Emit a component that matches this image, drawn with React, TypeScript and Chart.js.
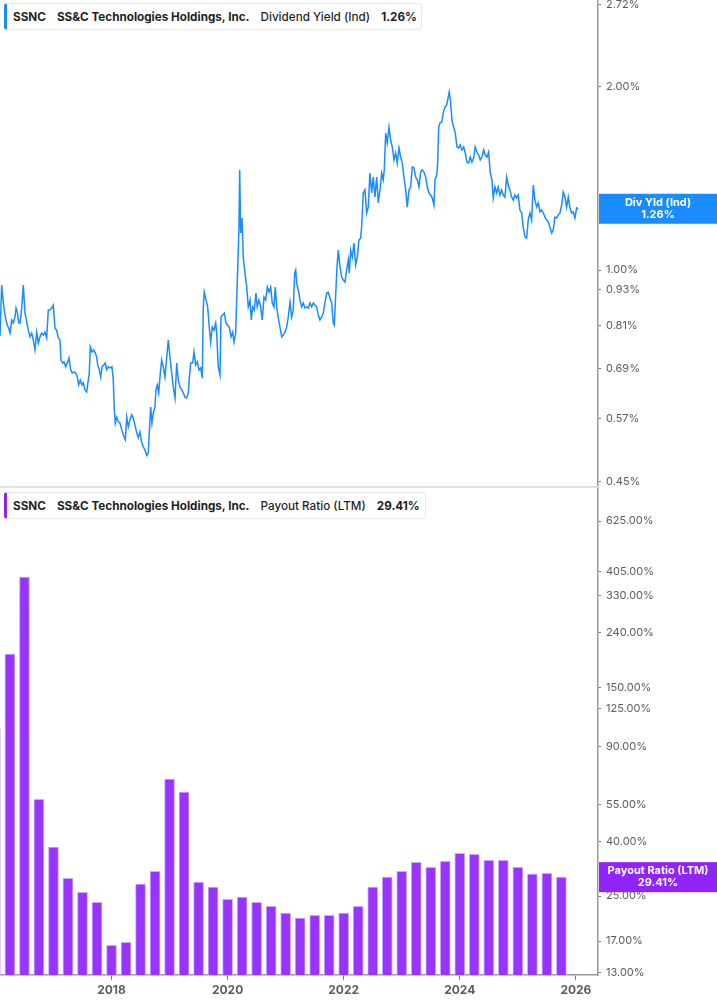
import { useEffect, useRef } from 'react';
import Chart from 'chart.js/auto';

const C = {
  blue: '#1a8cff',
  purple: '#9933ff',
  purpleBox: '#9124fb',
  purpleEdge: 'rgba(205,165,255,0.95)',
  axis: '#9a9a9a',
  tick: '#5c5c5c',
  text: '#1f1f1f'
};
const FONT = 'Inter, "Noto Sans", sans-serif';

// dividend yield (indicated), % — read off the picture
const yieldYears = [
  2016.079, 2016.108, 2016.136, 2016.16, 2016.182, 2016.205, 2016.229, 2016.251, 2016.281, 2016.308,
  2016.337, 2016.355, 2016.377, 2016.401, 2016.424, 2016.453, 2016.48, 2016.51, 2016.539, 2016.566,
  2016.596, 2016.625, 2016.653, 2016.682, 2016.711, 2016.739, 2016.768, 2016.797, 2016.825, 2016.854,
  2016.883, 2016.911, 2016.94, 2016.97, 2016.997, 2017.026, 2017.056, 2017.083, 2017.113, 2017.13,
  2017.159, 2017.181, 2017.211, 2017.245, 2017.268, 2017.297, 2017.324, 2017.354, 2017.383, 2017.411,
  2017.435, 2017.462, 2017.492, 2017.514, 2017.543, 2017.572, 2017.6, 2017.617, 2017.635, 2017.664,
  2017.693, 2017.721, 2017.745, 2017.762, 2017.79, 2017.814, 2017.836, 2017.865, 2017.893, 2017.917,
  2017.945, 2017.974, 2018.008, 2018.031, 2018.048, 2018.065, 2018.089, 2018.117, 2018.146, 2018.169,
  2018.193, 2018.215, 2018.238, 2018.262, 2018.289, 2018.318, 2018.348, 2018.375, 2018.405, 2018.434,
  2018.461, 2018.491, 2018.52, 2018.548, 2018.577, 2018.606, 2018.634, 2018.651, 2018.675, 2018.697,
  2018.72, 2018.749, 2018.766, 2018.789, 2018.813, 2018.835, 2018.864, 2018.892, 2018.921, 2018.951,
  2018.978, 2019.007, 2019.037, 2019.064, 2019.094, 2019.123, 2019.15, 2019.18, 2019.209, 2019.237,
  2019.266, 2019.295, 2019.323, 2019.34, 2019.364, 2019.399, 2019.421, 2019.45, 2019.478, 2019.507,
  2019.536, 2019.564, 2019.581, 2019.598, 2019.628, 2019.657, 2019.684, 2019.708, 2019.736, 2019.765,
  2019.795, 2019.812, 2019.839, 2019.869, 2019.886, 2019.915, 2019.943, 2019.972, 2020.001, 2020.029,
  2020.058, 2020.087, 2020.11, 2020.139, 2020.156, 2020.179, 2020.196, 2020.208, 2020.225, 2020.248,
  2020.27, 2020.299, 2020.329, 2020.356, 2020.386, 2020.408, 2020.432, 2020.46, 2020.489, 2020.511,
  2020.541, 2020.57, 2020.597, 2020.627, 2020.656, 2020.684, 2020.713, 2020.742, 2020.77, 2020.799,
  2020.821, 2020.846, 2020.873, 2020.902, 2020.932, 2020.959, 2020.988, 2021.018, 2021.045, 2021.075,
  2021.104, 2021.131, 2021.155, 2021.173, 2021.19, 2021.218, 2021.247, 2021.276, 2021.304, 2021.333,
  2021.362, 2021.39, 2021.419, 2021.448, 2021.476, 2021.505, 2021.534, 2021.562, 2021.591, 2021.62,
  2021.648, 2021.677, 2021.707, 2021.734, 2021.764, 2021.793, 2021.82, 2021.838, 2021.884, 2021.907,
  2021.936, 2021.965, 2021.993, 2022.022, 2022.051, 2022.079, 2022.096, 2022.12, 2022.148, 2022.177,
  2022.206, 2022.234, 2022.263, 2022.292, 2022.309, 2022.337, 2022.366, 2022.396, 2022.423, 2022.452,
  2022.482, 2022.509, 2022.538, 2022.568, 2022.595, 2022.625, 2022.654, 2022.681, 2022.699, 2022.723,
  2022.75, 2022.78, 2022.809, 2022.837, 2022.866, 2022.895, 2022.923, 2022.952, 2022.981, 2023.009,
  2023.038, 2023.068, 2023.095, 2023.125, 2023.154, 2023.181, 2023.211, 2023.24, 2023.268, 2023.297,
  2023.326, 2023.354, 2023.383, 2023.412, 2023.44, 2023.469, 2023.498, 2023.526, 2023.555, 2023.572,
  2023.602, 2023.619, 2023.636, 2023.658, 2023.688, 2023.715, 2023.745, 2023.774, 2023.801, 2023.819,
  2023.843, 2023.865, 2023.895, 2023.922, 2023.951, 2023.981, 2024.008, 2024.037, 2024.067, 2024.094,
  2024.123, 2024.153, 2024.18, 2024.209, 2024.239, 2024.266, 2024.296, 2024.325, 2024.352, 2024.382,
  2024.411, 2024.438, 2024.468, 2024.497, 2024.525, 2024.554, 2024.576, 2024.606, 2024.635, 2024.662,
  2024.692, 2024.721, 2024.749, 2024.778, 2024.807, 2024.835, 2024.864, 2024.893, 2024.921, 2024.95,
  2024.98, 2025.007, 2025.036, 2025.066, 2025.093, 2025.123, 2025.152, 2025.179, 2025.209, 2025.238,
  2025.266, 2025.295, 2025.324, 2025.352, 2025.381, 2025.41, 2025.438, 2025.467, 2025.496, 2025.524,
  2025.553, 2025.583, 2025.61, 2025.639, 2025.669, 2025.696, 2025.726, 2025.755, 2025.782, 2025.812,
  2025.841, 2025.868, 2025.898, 2025.927, 2025.955, 2025.984, 2026.013, 2026.041
];
const yieldValues = [
  0.78, 0.945, 0.883, 0.85, 0.828, 0.812, 0.803, 0.788, 0.828, 0.819,
  0.837, 0.866, 0.853, 0.819, 0.819, 0.866, 0.945, 0.85, 0.822, 0.797,
  0.777, 0.788, 0.768, 0.74, 0.791, 0.759, 0.777, 0.788, 0.782, 0.791,
  0.774, 0.86, 0.86, 0.866, 0.876, 0.803, 0.797, 0.774, 0.768, 0.712,
  0.704, 0.707, 0.694, 0.707, 0.718, 0.686, 0.678, 0.681, 0.678, 0.668,
  0.648, 0.66, 0.648, 0.653, 0.636, 0.631, 0.66, 0.678, 0.748, 0.734,
  0.74, 0.731, 0.72, 0.699, 0.686, 0.668, 0.694, 0.699, 0.704, 0.686,
  0.694, 0.691, 0.694, 0.66, 0.59, 0.561, 0.574, 0.564, 0.561, 0.551,
  0.541, 0.533, 0.527, 0.574, 0.553, 0.568, 0.579, 0.572, 0.557, 0.541,
  0.531, 0.543, 0.521, 0.513, 0.507, 0.497, 0.501, 0.541, 0.596, 0.561,
  0.583, 0.596, 0.636, 0.648, 0.629, 0.668, 0.712, 0.694, 0.668, 0.72,
  0.768, 0.72, 0.678, 0.643, 0.617, 0.704, 0.66, 0.643, 0.636, 0.629,
  0.619, 0.617, 0.629, 0.665, 0.704, 0.704, 0.734, 0.699, 0.707, 0.686,
  0.691, 0.665, 0.87, 0.92, 0.893, 0.87, 0.806, 0.762, 0.806, 0.797,
  0.819, 0.788, 0.694, 0.673, 0.837, 0.844, 0.85, 0.819, 0.812, 0.806,
  0.777, 0.791, 0.762, 0.788, 0.893, 1.039, 1.176, 1.459, 1.15, 1.217,
  1.05, 0.989, 0.938, 0.87, 0.893, 0.828, 0.87, 0.86, 0.917, 0.87,
  0.893, 0.87, 0.828, 0.903, 0.893, 0.938, 0.92, 0.938, 0.883, 0.87,
  0.938, 0.87, 0.834, 0.806, 0.777, 0.782, 0.791, 0.806, 0.837, 0.886,
  0.837, 0.86, 0.989, 1.0, 0.952, 0.927, 0.893, 0.87, 0.883, 0.866,
  0.87, 0.866, 0.883, 0.87, 0.883, 0.876, 0.87, 0.844, 0.828, 0.837,
  0.85, 0.883, 0.917, 0.92, 0.9, 0.883, 0.819, 0.812, 1.011, 1.078,
  1.011, 0.974, 0.963, 0.956, 1.0, 1.039, 0.989, 1.078, 1.05, 1.107,
  1.019, 1.05, 1.12, 1.128, 1.176, 1.337, 1.353, 1.24, 1.268, 1.442,
  1.337, 1.42, 1.317, 1.42, 1.288, 1.353, 1.442, 1.405, 1.459, 1.677,
  1.615, 1.715, 1.633, 1.591, 1.515, 1.555, 1.497, 1.585, 1.532, 1.497,
  1.42, 1.353, 1.268, 1.353, 1.368, 1.475, 1.47, 1.42, 1.405, 1.368,
  1.447, 1.459, 1.447, 1.42, 1.368, 1.337, 1.327, 1.312, 1.278, 1.405,
  1.431, 1.497, 1.715, 1.741, 1.748, 1.808, 1.85, 1.864, 1.921, 1.958,
  1.878, 1.761, 1.715, 1.677, 1.591, 1.585, 1.603, 1.573, 1.591, 1.555,
  1.503, 1.497, 1.532, 1.503, 1.526, 1.591, 1.561, 1.543, 1.515, 1.532,
  1.573, 1.543, 1.532, 1.561, 1.442, 1.405, 1.312, 1.368, 1.337, 1.368,
  1.327, 1.353, 1.327, 1.317, 1.42, 1.378, 1.353, 1.317, 1.302, 1.327,
  1.312, 1.327, 1.254, 1.24, 1.176, 1.133, 1.128, 1.208, 1.24, 1.208,
  1.378, 1.302, 1.268, 1.288, 1.245, 1.254, 1.24, 1.221, 1.208, 1.199,
  1.176, 1.15, 1.163, 1.221, 1.217, 1.231, 1.24, 1.278, 1.342, 1.317,
  1.268, 1.317, 1.264, 1.24, 1.245, 1.217, 1.264, 1.26
];

// payout ratio (LTM), %, quarter ends
const payoutQuarters = [
  2016.0, 2016.25, 2016.5, 2016.75, 2017.0, 2017.25, 2017.5, 2017.75, 2018.0, 2018.25,
  2018.5, 2018.75, 2019.0, 2019.25, 2019.5, 2019.75, 2020.0, 2020.25, 2020.5, 2020.75,
  2021.0, 2021.25, 2021.5, 2021.75, 2022.0, 2022.25, 2022.5, 2022.75, 2023.0, 2023.25,
  2023.5, 2023.75, 2024.0, 2024.25, 2024.5, 2024.75, 2025.0, 2025.25, 2025.5, 2025.75
];
const payoutValues = [
  105.7, 199.6, 386.5, 57.4, 38.1, 29.1, 25.8, 23.7, 16.4, 16.8,
  27.7, 30.9, 68.2, 61.0, 28.2, 27.0, 24.3, 24.8, 23.7, 22.9,
  21.6, 20.7, 21.2, 21.2, 21.6, 22.9, 27.0, 29.4, 30.9, 33.4,
  32.0, 33.7, 36.1, 35.8, 34.0, 34.0, 32.0, 30.2, 30.4, 29.41
];

const yieldTicks = [0.45, 0.57, 0.69, 0.81, 0.93, 1.0, 2.0, 2.72];
const payoutTicks = [13, 17, 25, 40, 55, 90, 125, 150, 240, 330, 405, 625];
const yearTicks = [2018, 2020, 2022, 2024, 2026];

const X_MIN = 2016.079;
const X_MAX = 2026.381;
const AXIS_W = 119;

const lastYield = yieldValues[yieldValues.length - 1];
const lastPayout = payoutValues[payoutValues.length - 1];

// value box on the right axis
const makeTagPlugin = (id: string, lines: string[], value: number, color: string) => ({
  id,
  afterDraw(chart: any) {
    const { ctx, chartArea } = chart;
    const y = chart.scales.y.getPixelForValue(value);
    const x0 = chartArea.right + 1;
    const w = chart.width - x0;
    ctx.save();
    ctx.fillStyle = color;
    ctx.fillRect(x0, y - 15, w, 30);
    ctx.fillStyle = '#fff';
    ctx.font = `bold 11px ${FONT}`;
    ctx.textAlign = 'center';
    ctx.textBaseline = 'middle';
    ctx.fillText(lines[0], x0 + w / 2, y - 6);
    ctx.fillText(lines[1], x0 + w / 2, y + 6);
    ctx.restore();
  }
});

const yAxis = (min: number, max: number, ticks: number[]) => ({
  type: 'logarithmic' as const,
  position: 'right' as const,
  min,
  max,
  afterBuildTicks: (s: any) => {
    s.ticks = ticks.map((v) => ({ value: v }));
  },
  afterFit: (s: any) => {
    s.width = AXIS_W;
    s.paddingTop = 0;
    s.paddingBottom = 0;
  },
  grid: {
    drawOnChartArea: false,
    drawTicks: true,
    tickLength: 3,
    tickColor: '#777'
  },
  border: { display: true, color: C.axis, width: 1.5 },
  ticks: {
    autoSkip: false,
    padding: 5,
    color: C.tick,
    font: { family: FONT, size: 11 },
    callback: (v: any) => Number(v).toFixed(2) + '%'
  }
});

function Header(props: { top: number; width: number; color: string; metric: string; value: string }) {
  return (
    <div
      style={{
        position: 'absolute',
        left: 4,
        top: props.top,
        width: props.width,
        height: 27,
        boxSizing: 'border-box',
        border: '1px solid #e9e9e9',
        borderLeft: `3px solid ${props.color}`,
        borderRadius: 3,
        background: '#fff',
        display: 'flex',
        alignItems: 'center',
        paddingLeft: 6,
        fontFamily: FONT,
        fontSize: 11.7,
        color: C.text,
        whiteSpace: 'nowrap'
      }}
    >
      <span style={{ fontWeight: 700, marginRight: 11 }}>SSNC</span>
      <span style={{ fontWeight: 700, marginRight: 11 }}>SS&C Technologies Holdings, Inc.</span>
      <span style={{ fontWeight: 500, marginRight: 11 }}>{props.metric}</span>
      <span style={{ fontWeight: 700 }}>{props.value}</span>
    </div>
  );
}

export default function App() {
  const topRef = useRef<HTMLCanvasElement | null>(null);
  const botRef = useRef<HTMLCanvasElement | null>(null);

  useEffect(() => {
    document.body.style.margin = '0';
    let topChart: Chart | null = null;
    let botChart: Chart | null = null;

    if (topRef.current) {
      topChart = new Chart(topRef.current, {
        type: 'line',
        data: {
          datasets: [
            {
              data: yieldYears.map((x, i) => ({ x, y: yieldValues[i] })),
              borderColor: C.blue,
              borderWidth: 1.5,
              pointRadius: 0,
              tension: 0
            }
          ]
        },
        options: {
          animation: false,
          responsive: true,
          maintainAspectRatio: false,
          layout: { padding: 0 },
          plugins: { legend: { display: false }, tooltip: { enabled: false } },
          scales: {
            x: { type: 'linear', min: X_MIN, max: X_MAX, display: false },
            y: yAxis(0.4393, 2.77, yieldTicks) as any
          }
        },
        plugins: [makeTagPlugin('yldTag', ['Div Yld (Ind)', lastYield.toFixed(2) + '%'], lastYield, C.blue)]
      });
    }

    if (botRef.current) {
      botChart = new Chart(botRef.current, {
        type: 'bar',
        data: {
          datasets: [
            {
              data: payoutQuarters.map((x, i) => ({ x, y: payoutValues[i] })),
              backgroundColor: C.purple,
              borderColor: C.purpleEdge,
              borderWidth: 1,
              borderSkipped: 'bottom',
              barThickness: 10
            }
          ]
        },
        options: {
          animation: false,
          responsive: true,
          maintainAspectRatio: false,
          layout: { padding: 0 },
          plugins: { legend: { display: false }, tooltip: { enabled: false } },
          scales: {
            x: {
              type: 'linear',
              offset: false,
              min: X_MIN,
              max: X_MAX,
              afterBuildTicks: (s: any) => {
                s.ticks = yearTicks.map((v) => ({ value: v }));
              },
              afterFit: (s: any) => {
                s.height = 30;
                s.paddingLeft = 0;
                s.paddingRight = 0;
              },
              grid: {
                offset: false,
                drawOnChartArea: false,
                drawTicks: true,
                tickLength: 5,
                tickColor: '#777'
              },
              border: { display: true, color: C.axis, width: 1.5 },
              ticks: {
                autoSkip: false,
                maxRotation: 0,
                padding: 3,
                color: C.tick,
                font: { family: FONT, size: 12, weight: 'bold' },
                callback: (v: any) => String(v)
              }
            },
            y: yAxis(12.7, 830, payoutTicks) as any
          }
        },
        plugins: [
          makeTagPlugin('payTag', ['Payout Ratio (LTM)', lastPayout.toFixed(2) + '%'], lastPayout, C.purpleBox)
        ]
      });
    }

    return () => {
      if (topChart) topChart.destroy();
      if (botChart) botChart.destroy();
    };
  }, []);

  return (
    <div style={{ position: 'relative', width: 717, height: 1005, background: '#fff', overflow: 'hidden' }}>
      <div style={{ position: 'absolute', left: 0, top: 0, width: 717, height: 488 }}>
        <canvas ref={topRef}></canvas>
      </div>
      <div style={{ position: 'absolute', left: 0, top: 486, width: 598, height: 2, background: '#e2e2e2' }}></div>
      <div style={{ position: 'absolute', left: 0, top: 488, width: 717, height: 517 }}>
        <canvas ref={botRef}></canvas>
      </div>
      <Header top={3} width={418} color={C.blue} metric="Dividend Yield (Ind)" value="1.26%" />
      <Header top={492} width={422} color={C.purpleBox} metric="Payout Ratio (LTM)" value="29.41%" />
    </div>
  );
}
